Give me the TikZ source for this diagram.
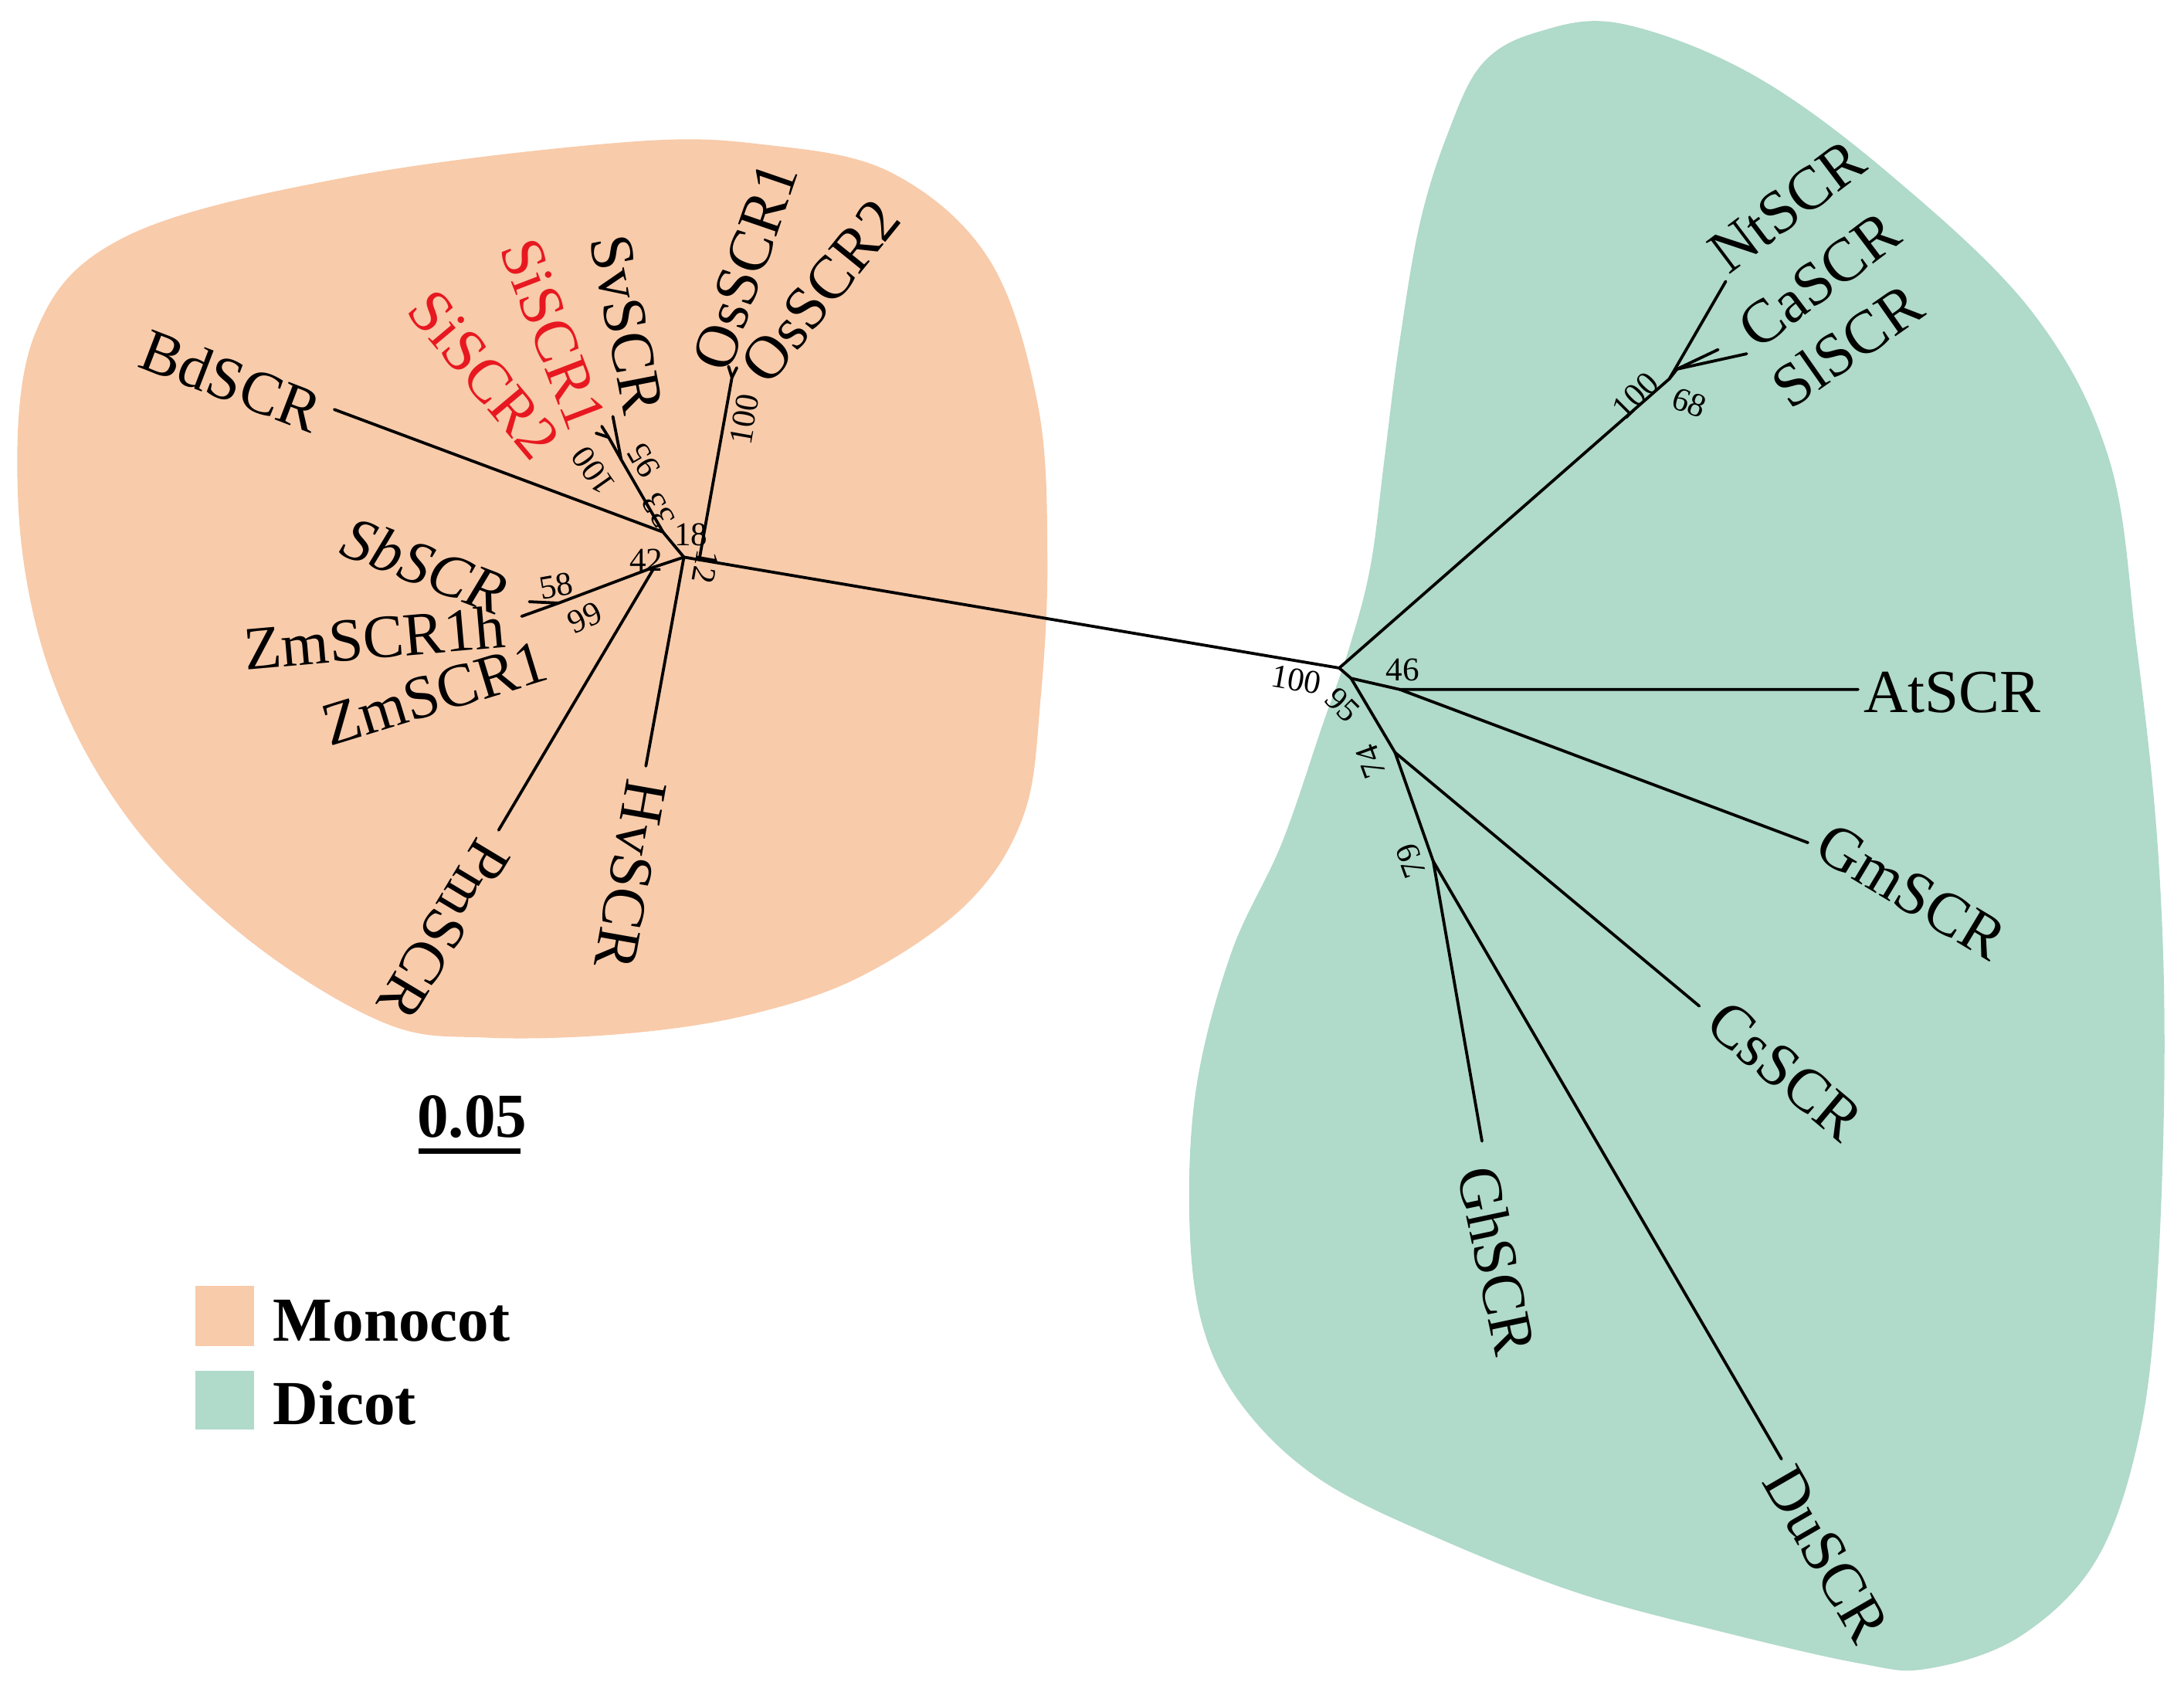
\documentclass[tikz,border=0pt]{standalone}
\usepackage{fontspec}
\setmainfont{Liberation Serif}
\definecolor{mono}{RGB}{248,203,170}
\definecolor{dico}{RGB}{176,218,202}
\definecolor{sired}{RGB}{232,24,32}
\begin{document}
\begin{tikzpicture}[x=0.1mm,y=-0.1mm,
  tip/.style={font=\fontsize{12.5}{14}\selectfont, inner sep=0pt},
  bs/.style={font=\fontsize{6.8}{8}\selectfont, inner sep=0pt},
  leg/.style={font=\fontsize{12.8}{15}\selectfont\bfseries, inner sep=0pt},
  br/.style={line width=0.6pt, black, line cap=round},
]
\useasboundingbox (0,0) rectangle (1568,1212.6);
% clade areas
\fill[mono] plot[smooth cycle, tension=0.6] coordinates {
 (450,102) (550,104) (640,124) (710,186) (745,290) (752,400) (747,503)
 (735,585) (695,648) (620,700) (540,728) (450,742) (350,745) (275,734) (175,672)
 (90,585) (35,480) (13,360) (25,240) (90,170) (250,127)};
\fill[dico] plot[smooth cycle, tension=0.6] coordinates {
 (1104,23) (1164,17) (1259,54) (1359,127) (1459,224) (1514,329) (1534,464)
 (1549,606) (1554,750) (1549,916) (1536,1030) (1505,1120) (1450,1175)
 (1384,1198) (1334,1194) (1234,1171) (1134,1144) (1034,1105) (949,1063)
 (894,1012) (864,954) (854,877) (859,780) (884,684) (920,606) (949,522)
 (969,464) (984,406) (994,329) (1004,251) (1019,162) (1039,97) (1064,46)};

% ---- tree coordinates: monocot
\coordinate (mJ) at (491,400);
\coordinate (mA) at (502,402);
\coordinate (osN) at (525.5,271);
\coordinate (osT1) at (523,263);
\coordinate (osT2) at (529,264);
\coordinate (hvT) at (463.7,550);
\coordinate (n42) at (470,407);
\coordinate (pmT) at (358,596);
\coordinate (n58) at (401,433);
\coordinate (sbT) at (380,432);
\coordinate (zmT) at (374.5,442.5);
\coordinate (nBd) at (476,382);
\coordinate (bdT) at (240,294);
\coordinate (n95) at (446,330);
\coordinate (svT) at (440,299);
\coordinate (n100) at (437,314);
\coordinate (siT1) at (432,306);
\coordinate (siT2) at (428,311);
% ---- dicot
\coordinate (dJ) at (961.5,479.6);
\coordinate (dC) at (1198.5,272);
\coordinate (ntT) at (1239,202);
\coordinate (csl) at (1204,265);
\coordinate (caT) at (1233.5,251);
\coordinate (slT) at (1254,254);
\coordinate (n95d) at (970,487);
\coordinate (n46) at (1005,495);
\coordinate (atT) at (1334,495);
\coordinate (gmT) at (1298,605);
\coordinate (n74) at (1001.6,540.3);
\coordinate (csT) at (1220,722.3);
\coordinate (n79) at (1029,618.4);
\coordinate (ghT) at (1064,819.3);
\coordinate (duT) at (1279,1047.5);

% ---- branches
\draw[br] (mJ) -- (dJ);
\draw[br] (mA) -- (osN) -- (osT1);
\draw[br] (osN) -- (osT2);
\draw[br] (mJ) -- (hvT);
\draw[br] (mJ) -- (n42) -- (pmT);
\draw[br] (n42) -- (n58) -- (sbT);
\draw[br] (n58) -- (zmT);
\draw[br] (mJ) -- (nBd) -- (bdT);
\draw[br] (nBd) -- (n95) -- (svT);
\draw[br] (n95) -- (n100) -- (siT1);
\draw[br] (n100) -- (siT2);
\draw[br] (dJ) -- (dC) -- (ntT);
\draw[br] (dC) -- (csl) -- (caT);
\draw[br] (csl) -- (slT);
\draw[br] (dJ) -- (n95d) -- (n46) -- (atT);
\draw[br] (n46) -- (gmT);
\draw[br] (n95d) -- (n74) -- (csT);
\draw[br] (n74) -- (n79) -- (ghT);
\draw[br] (n79) -- (duT);

% ---- tip labels
\node[tip, rotate=-21] (bd) at (166,273) {BdSCR};
\node[tip, rotate=-50, text=sired] (si2) at (347.5,269) {SiSCR2};
\node[tip, rotate=-69, text=sired] (si1) at (397,240) {SiSCR1};
\node[tip, rotate=-79] (sv) at (450,233) {SvSCR};
\node[tip, rotate=71] (os1) at (535,191) {OsSCR1};
\node[tip, rotate=51] (os2) at (589,209) {OsSCR2};
\node[tip, rotate=-21, font=\fontsize{12.5}{14}\selectfont\itshape] (sb) at (305,405.8) {SbSCR};
\node[tip, rotate=5] (zm1h) at (269,457.7) {ZmSCR1h};
\node[tip, rotate=17] (zm1) at (312,498) {ZmSCR1};
\node[tip, rotate=-121] (pm) at (318.5,667.5) {PmSCR};
\node[tip, rotate=-100] (hv) at (452.7,628) {HvSCR};
\node[tip, rotate=37] (nt) at (1283,148) {NtSCR};
\node[tip, rotate=37] (ca) at (1306,201) {CaSCR};
\node[tip, rotate=35] (sl) at (1326,248) {SlSCR};
\node[tip] (at) at (1401.5,497) {AtSCR};
\node[tip, rotate=-31] (gm) at (1372,640) {GmSCR};
\node[tip, rotate=-40] (cs) at (1281.5,769) {CsSCR};
\node[tip, rotate=-78] (gh) at (1075,905) {GhSCR};
\node[tip, rotate=-60] (du) at (1311,1116) {DuSCR};

% ---- bootstrap values
\node[bs, rotate=125] (b1) at (426,338) {100};
\node[bs, rotate=120] (b2) at (462,330.5) {95};
\node[bs, rotate=120] (b3) at (472.7,366.5) {33};
\node[bs] (b4) at (496,384) {18};
\node[bs] (b5) at (464,402) {42};
\node[bs, rotate=-100] (b6) at (506.5,407) {12};
\node[bs, rotate=80] (b7) at (534.4,301) {100};
\node[bs, rotate=10] (b8) at (399.5,420.5) {58};
\node[bs, rotate=25] (b9) at (420,443.5) {99};
\node[bs, rotate=-10] (d1) at (930.6,488) {100};
\node[bs, rotate=-45] (d2) at (964,506) {95};
\node[bs] (d3) at (1007,481) {46};
\node[bs, rotate=110] (d4) at (984,547) {74};
\node[bs, rotate=110] (d5) at (1013,618) {79};
\node[bs, rotate=45] (d6) at (1174,284) {100};
\node[bs, rotate=-20] (d7) at (1213,289) {68};

% ---- scale bar
\node[leg, anchor=base] (scale) at (339,816.5) {0.05};
\coordinate (sbL) at (300.3,826.6);
\coordinate (sbR) at (373.9,826.6);
\draw[line width=1.05pt] (sbL) -- (sbR);

% ---- legend
\fill[mono] (140.3,923.2) rectangle (182.6,966.4);
\fill[dico] (140.3,983.9) rectangle (182.6,1026.2);
\node[leg, anchor=base west] (lmono) at (195.5,962.7) {Monocot};
\node[leg, anchor=base west] (ldico) at (195.5,1022.5) {Dicot};
\end{tikzpicture}
\end{document}
